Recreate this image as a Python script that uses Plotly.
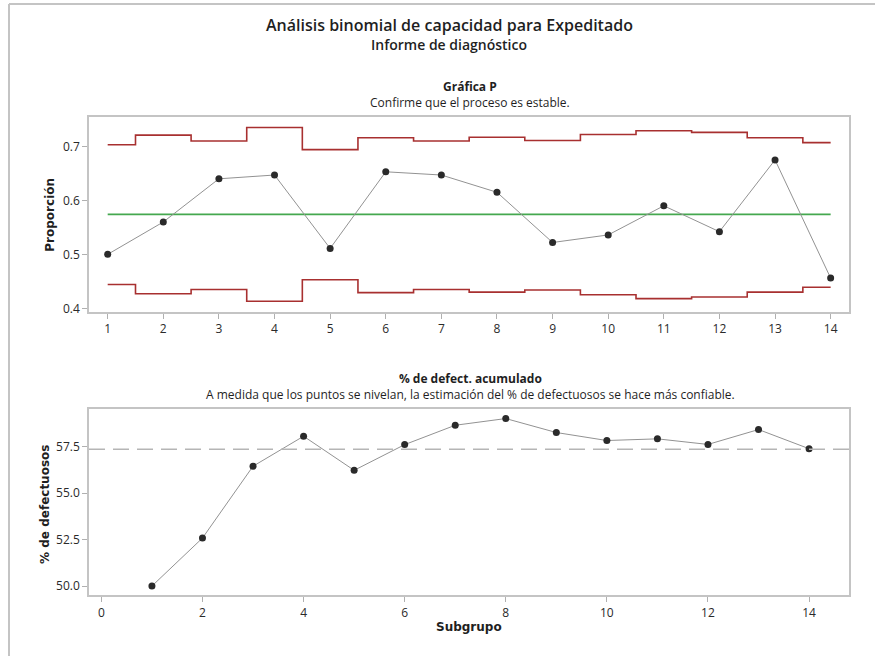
import plotly.graph_objects as go

# ---- data ----
subgroups = list(range(1, 15))
proportion = [0.500, 0.560, 0.640, 0.647, 0.511, 0.653, 0.647, 0.615, 0.522, 0.536, 0.590, 0.542, 0.675, 0.456]
ucl = [0.703, 0.721, 0.710, 0.735, 0.694, 0.716, 0.710, 0.717, 0.711, 0.722, 0.729, 0.726, 0.716, 0.707]
lcl = [0.444, 0.427, 0.435, 0.413, 0.453, 0.429, 0.435, 0.430, 0.434, 0.425, 0.418, 0.421, 0.430, 0.439]
center_p = 0.574
cum_defect = [50.0, 52.58, 56.44, 58.05, 56.22, 57.60, 58.64, 59.00, 58.25, 57.82, 57.91, 57.61, 58.41, 57.38]
overall_pct = 57.35

W, H = 875, 660
def px(x): return x / W
def py(y): return 1 - y / H

FONT = "Open Sans"
TXT = "#1f1f1f"

fig = go.Figure()

# Top: P chart
fig.add_trace(go.Scatter(x=subgroups, y=ucl, mode="lines", line=dict(color="#a83030", width=1.6, shape="hvh"),
                         xaxis="x", yaxis="y", hoverinfo="skip"))
fig.add_trace(go.Scatter(x=subgroups, y=lcl, mode="lines", line=dict(color="#a83030", width=1.6, shape="hvh"),
                         xaxis="x", yaxis="y", hoverinfo="skip"))
fig.add_trace(go.Scatter(x=[subgroups[0], subgroups[-1]], y=[center_p, center_p], mode="lines",
                         line=dict(color="#45a84f", width=1.6), xaxis="x", yaxis="y"))
fig.add_trace(go.Scatter(x=subgroups, y=proportion, mode="lines+markers",
                         line=dict(color="#929292", width=1),
                         marker=dict(color="#2a2a2a", size=7),
                         xaxis="x", yaxis="y"))

# Bottom: cumulative % defective
fig.add_trace(go.Scatter(x=subgroups, y=cum_defect, mode="lines+markers",
                         line=dict(color="#929292", width=1),
                         marker=dict(color="#2a2a2a", size=7),
                         xaxis="x2", yaxis="y2"))

fig.add_shape(type="line", xref="x2 domain", yref="y2", x0=0, x1=1, y0=overall_pct, y1=overall_pct,
              line=dict(color="#b5b5b5", width=1.5, dash="16px,8px"))

axis_common = dict(showgrid=False, zeroline=False, showline=True, mirror=True, linecolor="#c4c4c4",
                   linewidth=1.5, ticks="outside", ticklen=5, tickcolor="#b0b0b0", tickwidth=1,
                   tickfont=dict(family=FONT, size=12, color="#2a2a2a"))

fig.update_layout(
    width=W, height=H,
    margin=dict(l=0, r=0, t=0, b=0),
    paper_bgcolor="white", plot_bgcolor="white",
    showlegend=False,
    xaxis=dict(domain=[px(89), px(849)], range=[0.664, 14.33], tickvals=subgroups, anchor="y", **axis_common),
    yaxis=dict(domain=[py(314), py(118)], range=[0.393, 0.754], tickvals=[0.4, 0.5, 0.6, 0.7],
               ticktext=["0.4", "0.5", "0.6", "0.7"], anchor="x", **axis_common),
    xaxis2=dict(domain=[px(89), px(849)], range=[-0.245, 14.79], tickvals=[0, 2, 4, 6, 8, 10, 12, 14],
                anchor="y2", **axis_common),
    yaxis2=dict(domain=[py(599), py(411)], range=[49.5, 59.54], tickvals=[50, 52.5, 55, 57.5],
                ticktext=["50.0", "52.5", "55.0", "57.5"], anchor="x2", **axis_common),
)

# outer frame (left and top edges)
fig.add_shape(type="line", xref="paper", yref="paper", x0=px(9), x1=1, y0=py(4), y1=py(4),
              line=dict(color="#c4c4c4", width=2), layer="above")
fig.add_shape(type="line", xref="paper", yref="paper", x0=px(9), x1=px(9), y0=py(4), y1=0,
              line=dict(color="#c4c4c4", width=2), layer="above")

def txt(text, x, y, size, weight=400, family=FONT, angle=0):
    fig.add_annotation(text=text, x=px(x), y=py(y), xref="paper", yref="paper", showarrow=False,
                       xanchor="center", yanchor="middle", textangle=angle,
                       font=dict(family=family, size=size, color=TXT, weight=weight))

txt("Análisis binomial de capacidad para Expeditado", 449, 25, 16, 600)
txt("Informe de diagnóstico", 449, 45, 14, 600)
txt("<b>Gráfica P</b><br>Confirme que el proceso es estable.", 470, 95.5, 12)
txt("<b>% de defect. acumulado</b><br>A medida que los puntos se nivelan, la estimación del % de defectuosos se hace más confiable.",
    470, 388.5, 12)
txt("Proporción", 50, 216, 12, 700, "DejaVu Sans", -90)
txt("% de defectuosos", 45, 508, 12, 700, "DejaVu Sans", -90)
txt("Subgrupo", 469, 631, 12, 700, "DejaVu Sans")

fig.write_html("out.html", config={"displayModeBar": False},
               post_script="document.body.style.margin='0';document.body.style.overflow='hidden';")
